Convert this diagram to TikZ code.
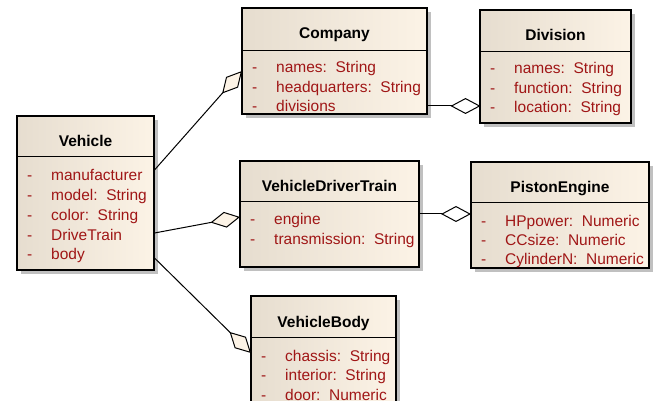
\documentclass[tikz,border=0pt]{standalone}
\usepackage{fontspec}
\setmainfont{Liberation Sans}
\usetikzlibrary{arrows.meta,shadows}
\definecolor{boxL}{RGB}{230,221,207}
\definecolor{boxR}{RGB}{252,243,230}
\definecolor{attr}{RGB}{160,22,22}
\definecolor{shad}{RGB}{192,192,192}
\tikzset{
  umlbox/.style={draw=black, line width=1.1pt, left color=boxL, right color=boxR,
    anchor=north west, inner sep=0pt, outer sep=0pt,
    drop shadow={shadow xshift=4pt, shadow yshift=-4pt, fill=shad, opacity=1}},
  sepline/.style={line width=1pt},
  titletext/.style={font=\fontsize{15.5}{18}\selectfont\bfseries, anchor=base, inner sep=0pt},
  dashtext/.style={font=\fontsize{15.5}{18}\selectfont, text=attr, anchor=base west, inner sep=0pt},
  attrtext/.style={dashtext},
  agg/.style={line width=1pt, -{Diamond[length=30pt,width=16pt,fill=#1]}},
  agg/.default=white
}
\newcommand\umlattr[4]{%
  \node[dashtext] (#1-d) at (#2+10,#3) {-};
  \node[attrtext] (#1) at (#2+34,#3) {#4};}
\begin{document}
\begin{tikzpicture}[x=1pt,y=-1pt]
\useasboundingbox (0,0) rectangle (654,401);

% Vehicle
\node[umlbox, minimum width=137pt, minimum height=154pt] (veh) at (17,116) {};
\draw[sepline] (17,157) -- (154,157);
\node[titletext] (veh-t) at (85.5,146.5) {Vehicle};
\begin{scope}
\clip (veh.north west) rectangle (veh.south east);
\umlattr{veh-a1}{17}{181}{manufacturer}
\umlattr{veh-a2}{17}{200.7}{model:~~String}
\umlattr{veh-a3}{17}{220.4}{color:~~String}
\umlattr{veh-a4}{17}{240.1}{DriveTrain}
\umlattr{veh-a5}{17}{259.8}{body}
\end{scope}

% Company
\node[umlbox, minimum width=185pt, minimum height=106pt] (comp) at (242,8) {};
\draw[sepline] (242,51) -- (427,51);
\node[titletext] (comp-t) at (334.5,38.5) {Company};
\begin{scope}
\clip (comp.north west) rectangle (comp.south east);
\umlattr{comp-a1}{242}{73}{names:~~String}
\umlattr{comp-a2}{242}{92.5}{headquarters:~~String}
\umlattr{comp-a3}{242}{112}{divisions}
\end{scope}

% Division
\node[umlbox, minimum width=151pt, minimum height=113pt] (div) at (480,10) {};
\draw[sepline] (480,52) -- (631,52);
\node[titletext] (div-t) at (555.5,40.5) {Division};
\begin{scope}
\clip (div.north west) rectangle (div.south east);
\umlattr{div-a1}{480}{74}{names:~~String}
\umlattr{div-a2}{480}{93.5}{function:~~String}
\umlattr{div-a3}{480}{113}{location:~~String}
\end{scope}

% VehicleDriverTrain
\node[umlbox, minimum width=179pt, minimum height=106pt] (vdt) at (240,161) {};
\draw[sepline] (240,202) -- (419,202);
\node[titletext] (vdt-t) at (329.5,191.5) {VehicleDriverTrain};
\begin{scope}
\clip (vdt.north west) rectangle (vdt.south east);
\umlattr{vdt-a1}{240}{225}{engine}
\umlattr{vdt-a2}{240}{244.5}{transmission:~~String}
\end{scope}

% PistonEngine
\node[umlbox, minimum width=178pt, minimum height=106pt] (pist) at (471,162) {};
\draw[sepline] (471,203) -- (649,203);
\node[titletext] (pist-t) at (560,192.5) {PistonEngine};
\begin{scope}
\clip (pist.north west) rectangle (pist.south east);
\umlattr{pist-a1}{471}{226}{HPpower:~~Numeric}
\umlattr{pist-a2}{471}{245.5}{CCsize:~~Numeric}
\umlattr{pist-a3}{471}{265}{CylinderN:~~Numeric}
\end{scope}

% VehicleBody
\node[umlbox, minimum width=145pt, minimum height=144pt] (body) at (251,296) {};
\draw[sepline] (251,337) -- (396,337);
\node[titletext] (body-t) at (323.5,327.5) {VehicleBody};
\begin{scope}
\clip (body.north west) rectangle (body.south east);
\umlattr{body-a1}{251}{361}{chassis:~~String}
\umlattr{body-a2}{251}{380.5}{interior:~~String}
\umlattr{body-a3}{251}{400}{door:~~Numeric}
\end{scope}

% connector end points
\coordinate (vA) at (154.5,170);
\coordinate (cA) at (242,71);
\coordinate (vB) at (154.5,233);
\coordinate (tB) at (240,217);
\coordinate (vC) at (154.5,258);
\coordinate (bC) at (251,353);
\coordinate (cD) at (427,106);
\coordinate (dD) at (480.5,106);
\coordinate (tE) at (419,214);
\coordinate (pE) at (471,214);

\draw[agg=boxR] (vA) -- (cA);
\draw[agg=boxR] (vB) -- (tB);
\draw[agg=boxR] (vC) -- (bC);
\draw[agg=white] (cD) -- (dD);
\draw[agg=white] (tE) -- (pE);
\end{tikzpicture}
\end{document}
